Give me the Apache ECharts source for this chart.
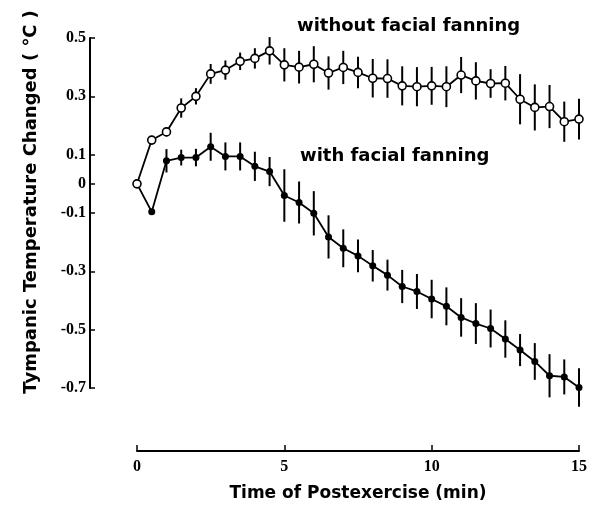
<!DOCTYPE html>
<html>
<head>
    <meta charset="UTF-8">
    <title>Tympanic Temperature Changed</title>
    <script src="https://cdn.jsdelivr.net/npm/echarts@6.0.0/dist/echarts.min.js"></script>
    <style>
        html, body { margin: 0; padding: 0; background: #fff; }
        #chart { width: 590px; height: 513px; }
    </style>
</head>
<body>
    <div id="chart"></div>
    <script>
        // time points (min)
        const times = [0, 0.5, 1, 1.5, 2, 2.5, 3, 3.5, 4, 4.5, 5, 5.5, 6, 6.5, 7, 7.5,
                       8, 8.5, 9, 9.5, 10, 10.5, 11, 11.5, 12, 12.5, 13, 13.5, 14, 14.5, 15];

        // without facial fanning (open circles)
        const withoutMean = [0, 0.15, 0.178, 0.26, 0.30, 0.377, 0.39, 0.42, 0.43, 0.456, 0.408,
                             0.40, 0.41, 0.38, 0.399, 0.382, 0.362, 0.361, 0.336, 0.333, 0.336,
                             0.333, 0.373, 0.353, 0.344, 0.345, 0.29, 0.262, 0.265, 0.213, 0.222];
        const withoutErr = [0, 0.01, 0.015, 0.033, 0.028, 0.034, 0.033, 0.03, 0.035, 0.047, 0.057,
                            0.056, 0.062, 0.057, 0.057, 0.054, 0.066, 0.066, 0.067, 0.067, 0.065,
                            0.07, 0.062, 0.064, 0.049, 0.059, 0.086, 0.079, 0.074, 0.069, 0.07];

        // with facial fanning (filled circles)
        const withMean = [0, -0.096, 0.079, 0.09, 0.09, 0.127, 0.094, 0.094, 0.06, 0.042, -0.04,
                          -0.064, -0.101, -0.182, -0.221, -0.247, -0.281, -0.313, -0.352, -0.369,
                          -0.395, -0.42, -0.458, -0.479, -0.496, -0.532, -0.57, -0.609, -0.658,
                          -0.662, -0.698];
        const withErr = [0, 0, 0.04, 0.027, 0.03, 0.048, 0.048, 0.048, 0.05, 0.05, 0.09,
                         0.072, 0.076, 0.074, 0.065, 0.056, 0.054, 0.053, 0.057, 0.06,
                         0.066, 0.065, 0.066, 0.07, 0.065, 0.064, 0.055, 0.063, 0.074, 0.06, 0.066];

        const yTicks = [-0.7, -0.5, -0.3, -0.1, 0, 0.1, 0.3, 0.5];
        const xTicks = [0, 5, 10, 15];

        const labelFont = 'Liberation Serif';
        const titleFont = 'DejaVu Sans';

        function pairs(xs, ys) {
            return xs.map((x, i) => [x, ys[i]]);
        }
        function bars(xs, ys, es) {
            return xs.map((x, i) => [x, ys[i] - es[i], ys[i] + es[i]]);
        }

        function errorBar(params, api) {
            const lo = api.coord([api.value(0), api.value(1)]);
            const hi = api.coord([api.value(0), api.value(2)]);
            return {
                type: 'line',
                shape: { x1: lo[0], y1: lo[1], x2: hi[0], y2: hi[1] },
                style: { stroke: '#000', lineWidth: 2 }
            };
        }

        const chart = echarts.init(document.getElementById('chart'));

        chart.setOption({
            animation: false,
            grid: { left: 137, right: 10, top: 38, bottom: 125 },
            xAxis: {
                type: 'value',
                min: 0,
                max: 15,
                interval: 5,
                offset: 63,
                name: 'Time of Postexercise (min)',
                nameLocation: 'middle',
                nameGap: 34,
                nameTextStyle: { fontFamily: titleFont, fontWeight: 'bold', fontSize: 17, color: '#000' },
                axisLine: { onZero: false, lineStyle: { color: '#000', width: 2 } },
                axisTick: { inside: true, length: 6, lineStyle: { color: '#000', width: 1.5 }, customValues: xTicks },
                axisLabel: { customValues: xTicks, fontFamily: labelFont, fontWeight: 'bold', fontSize: 16, color: '#000', margin: 8 },
                splitLine: { show: false }
            },
            yAxis: {
                type: 'value',
                min: -0.7,
                max: 0.5,
                interval: 0.1,
                offset: 47,
                name: 'Tympanic Temperature Changed ( \u2103 )',
                nameLocation: 'middle',
                nameGap: 50,
                nameTextStyle: { fontFamily: titleFont, fontWeight: 'bold', fontSize: 18, color: '#000', padding: [0, 0, 0, 22] },
                axisLine: { show: true, onZero: false, lineStyle: { color: '#000', width: 2 } },
                axisTick: { show: true, inside: true, length: 5, lineStyle: { color: '#000', width: 1.5 }, customValues: yTicks },
                axisLabel: { customValues: yTicks, fontFamily: labelFont, fontWeight: 'bold', fontSize: 16, color: '#000', margin: 4 },
                splitLine: { show: false }
            },
            graphic: [
                {
                    type: 'text', left: 297, top: 17,
                    style: { text: 'without facial fanning', fontFamily: titleFont, fontWeight: 'bold', fontSize: 18, fill: '#000' }
                },
                {
                    type: 'text', left: 300, top: 147,
                    style: { text: 'with facial fanning', fontFamily: titleFont, fontWeight: 'bold', fontSize: 18, fill: '#000' }
                }
            ],
            series: [
                {
                    type: 'custom',
                    renderItem: errorBar,
                    data: bars(times, withMean, withErr),
                    z: 1
                },
                {
                    type: 'custom',
                    renderItem: errorBar,
                    data: bars(times, withoutMean, withoutErr),
                    z: 1
                },
                {
                    name: 'with facial fanning',
                    type: 'line',
                    data: pairs(times, withMean),
                    symbol: 'circle',
                    symbolSize: 7,
                    itemStyle: { color: '#000' },
                    lineStyle: { color: '#000', width: 1.8 },
                    z: 2
                },
                {
                    name: 'without facial fanning',
                    type: 'line',
                    data: pairs(times, withoutMean),
                    symbol: 'circle',
                    symbolSize: 8,
                    itemStyle: { color: '#fff', borderColor: '#000', borderWidth: 1.6 },
                    lineStyle: { color: '#000', width: 1.8 },
                    z: 3
                }
            ]
        });
    </script>
</body>
</html>
